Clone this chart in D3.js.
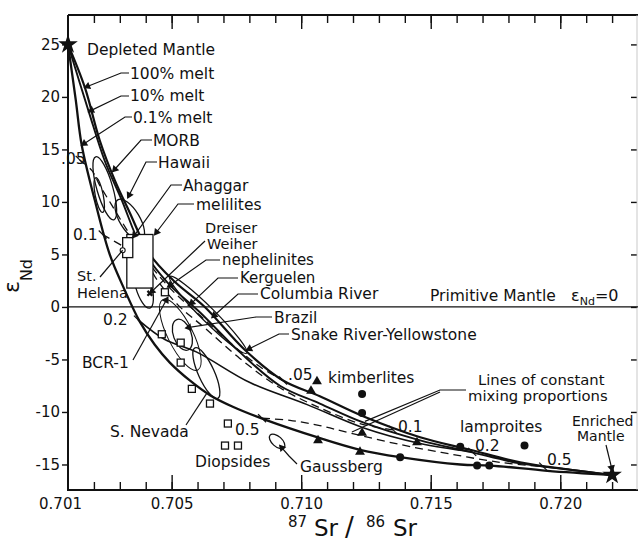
<!DOCTYPE html>
<html>
<head>
<meta charset="utf-8">
<script src="https://cdn.jsdelivr.net/npm/d3@7"></script>
<style>
  body { margin: 0; background: #fff; }
  svg { display: block; }
  text { font-family: "DejaVu Sans", sans-serif; fill: #111; }
</style>
</head>
<body>
<svg id="chart" width="638" height="541"></svg>
<script>
// ---- values (87Sr/86Sr , eNd) ----
const srRange = [0.701, 0.723];
const ndRange = [-17.43, 27.8];
const xTickValues = [0.701, 0.705, 0.710, 0.715, 0.720];
const yTickValues = [-15, -10, -5, 0, 5, 10, 15, 20, 25];

const depletedMantle = [0.7010, 25];
const enrichedMantle = [0.7220, -16];

// mixing curves DM -> EM
const melt100 = [[0.7010,25],[0.70165,20.9],[0.70222,15.9],[0.70280,12.1],[0.70338,9.0],[0.70416,5.0],
  [0.70512,2.4],[0.70628,0],[0.70783,-4.1],[0.70930,-7.0],[0.71072,-8.5],[0.71239,-10.4],
  [0.71459,-12.4],[0.71652,-13.6],[0.71845,-14.8],[0.72039,-15.5],[0.7220,-16.0]];
const melt10 = [[0.7010,25],[0.70180,18.6],[0.70242,13.9],[0.70307,10.2],[0.70385,5.6],[0.70485,2.3],
  [0.70609,-0.5],[0.70763,-4.3],[0.70918,-7.5],[0.71072,-9.2],[0.71239,-11.0],[0.71459,-12.7],
  [0.71652,-13.8],[0.71845,-14.9],[0.72039,-15.5],[0.7220,-16.0]];
const melt01 = [[0.7010,25],[0.70130,19.7],[0.70153,15.4],[0.70203,10.2],[0.70261,5.0],[0.70319,1.6],
  [0.70377,-1.4],[0.70435,-3.6],[0.70493,-5.3],[0.70570,-7.0],[0.70648,-8.4],[0.70736,-9.5],
  [0.70868,-10.8],[0.71061,-12.4],[0.71227,-13.6],[0.71382,-14.3],[0.71614,-15.0],[0.71730,-15.1],
  [0.71950,-15.6],[0.7220,-16.0]];

// lines of constant mixing proportion
const propLabels = ['.05', '0.1', '0.2', '0.5'];
const mix05 = [[0.70145,14.0],[0.70192,13.0],[0.70222,11.6],[0.70269,9.7],[0.70331,7.2],[0.70408,4.3],
  [0.70501,1.6],[0.70609,-0.8],[0.70744,-3.8],[0.70841,-5.7],[0.70930,-7.0]];
const mix1 = [[0.70234,6.9],[0.70319,5.7],[0.70389,4.8],[0.70443,2.6],[0.70524,0.2],[0.70628,-2.0],
  [0.70763,-4.9],[0.70918,-7.7],[0.71072,-9.6],[0.71227,-11.1],[0.71355,-11.7]];
const mix2 = [[0.70370,-1.2],[0.70474,-3.1],[0.70597,-4.3],[0.70802,-7.2],[0.71023,-9.3],
  [0.71239,-11.5],[0.71459,-13.0],[0.71660,-13.8]];
const mix5 = [[0.70849,-10.6],[0.70957,-10.8],[0.71072,-11.3],[0.71188,-12.0],[0.71382,-13.1],
  [0.71575,-14.0],[0.71768,-14.8],[0.71934,-15.2]];

// fields: ends of long axis + half width (eNd units)
const fieldNames = ['MORB', 'MORB inner', 'Hawaii', 'St. Helena', 'Snake River', 'Brazil', 'lobe', 'S. Nevada', 'Gaussberg'];
const fieldFrom = [[0.70207,14.3],[0.70207,12.3],[0.70292,10.2],[0.70365,4.3],[0.70493,2.9],[0.70520,-1.2],[0.70466,0.7],[0.70590,-3.9],[0.70880,-12.2]];
const fieldTo   = [[0.70277,8.3],[0.70234,9.0],[0.70385,6.4],[0.70416,-0.1],[0.70790,-4.4],[0.70563,-4.1],[0.70601,-6.0],[0.70678,-8.7],[0.70934,-13.4]];
const fieldHalfWidth = [0.76, 0.38, 0.95, 0.76, 0.67, 0.85, 1.2, 0.76, 0.48];

const boxNames = ['melilites', 'Ahaggar'];
const boxSr = [[0.70327,0.70428],[0.70311,0.70350]];
const boxNd = [[6.9,1.8],[6.6,4.7]];

const diopsides = [[0.70474,1.4],[0.70462,-2.6],[0.70535,-3.4],[0.70535,-5.3],[0.70578,-7.8],
  [0.70648,-9.2],[0.70717,-11.1],[0.70706,-13.2],[0.70756,-13.2]];
const kimberlites = [[0.71061,-7.1],[0.71038,-8.0],[0.71235,-12.0],[0.71065,-12.7],[0.71227,-13.8],[0.71447,-12.9]];
const lamproites = [[0.71235,-8.3],[0.71235,-10.1],[0.71382,-14.3],[0.71614,-13.3],[0.71679,-15.1],[0.71726,-15.1],[0.71862,-13.2]];
const dreiserWeiher = [0.70416, 1.3];
const ahaggarPoint = [0.70311, 5.4];

// ---- layout ----
const W = 638, H = 541;
const margin = {top: 15, right: 0, bottom: 51, left: 68};
const svg = d3.select('#chart');

const x = d3.scaleLinear().domain(srRange).range([margin.left, W - margin.right]);
const y = d3.scaleLinear().domain(ndRange).range([H - margin.bottom, margin.top]);
const pt = d => [x(d[0]), y(d[1])];
const pxPerNd = y(0) - y(1);

const minorX = d3.range(1, 22).map(i => +(0.701 + i * 0.001).toFixed(3));
const majorX = [0.705, 0.710, 0.715, 0.720];

function noDomain(g) { g.select('.domain').remove(); }
function tickStyle(g) { g.selectAll('line').attr('stroke', '#111').attr('stroke-width', 1.4); }

// bottom ticks (inward) + labels
svg.append('g').attr('transform', `translate(0,${y(ndRange[0])})`)
  .call(d3.axisBottom(x).tickValues(minorX).tickSize(-8).tickFormat(''))
  .call(noDomain).call(tickStyle);
svg.append('g').attr('transform', `translate(0,${y(ndRange[0])})`)
  .call(d3.axisBottom(x).tickValues(majorX).tickSize(-15).tickFormat(''))
  .call(noDomain).call(tickStyle);
svg.append('g').attr('transform', `translate(0,${y(ndRange[0])})`)
  .call(d3.axisBottom(x).tickValues(xTickValues).tickSize(0).tickPadding(8).tickFormat(d3.format('.3f')))
  .call(noDomain)
  .call(g => g.selectAll('text').attr('font-size', 15).attr('font-family', '"DejaVu Sans", sans-serif').attr('fill', '#111'))
  .call(g => g.selectAll('.tick text').filter(d => d === 0.701).attr('dx', -8));

// top ticks
svg.append('g').attr('transform', `translate(0,${y(ndRange[1])})`)
  .call(d3.axisTop(x).tickValues(minorX).tickSize(-8).tickFormat(''))
  .call(noDomain).call(tickStyle);
svg.append('g').attr('transform', `translate(0,${y(ndRange[1])})`)
  .call(d3.axisTop(x).tickValues(majorX).tickSize(-14).tickFormat(''))
  .call(noDomain).call(tickStyle);

// left axis
svg.append('g').attr('transform', `translate(${x(srRange[0])},0)`)
  .call(d3.axisLeft(y).tickValues(yTickValues).tickSize(6).tickPadding(2).tickFormat(d => String(d)))
  .call(noDomain).call(tickStyle)
  .call(g => g.selectAll('text').attr('font-size', 15).attr('font-family', '"DejaVu Sans", sans-serif').attr('fill', '#111'));

// right axis ticks
svg.append('g').attr('transform', `translate(${x(srRange[1]) - 1},0)`)
  .call(d3.axisRight(y).tickValues(yTickValues).tickSize(-6).tickFormat(''))
  .call(noDomain).call(tickStyle);

// frame
const x0 = x(srRange[0]), x1 = x(srRange[1]), y0 = y(ndRange[0]), y1 = y(ndRange[1]);
svg.append('path').attr('d', `M${x0},${y1}H${x1} M${x0},${y1}V${y0}H${x1}`)
  .attr('fill', 'none').attr('stroke', '#111').attr('stroke-width', 2);
svg.append('line').attr('x1', x1 - 1).attr('x2', x1 - 1).attr('y1', y1).attr('y2', y0)
  .attr('stroke', '#bbb').attr('stroke-width', 0.8);

// primitive mantle line
svg.append('line').attr('x1', x0).attr('x2', x1).attr('y1', y(0)).attr('y2', y(0))
  .attr('stroke', '#111').attr('stroke-width', 1.2);

// curves
const line = d3.line().x(d => x(d[0])).y(d => y(d[1])).curve(d3.curveCatmullRom.alpha(0.5));
const curveStyles = [
  [melt100, 2.2, null], [melt10, 1.9, null], [melt01, 2.3, null],
  [mix2, 1.6, null], [mix05, 1.3, '8,5'], [mix1, 1.3, '8,5'], [mix5, 1.3, '8,5']
];
curveStyles.forEach(([data, w, dash]) => {
  svg.append('path').attr('d', line(data)).attr('fill', 'none')
    .attr('stroke', '#111').attr('stroke-width', w).attr('stroke-dasharray', dash);
});

// fields (rotated ellipses)
fieldNames.forEach((name, i) => {
  const a = pt(fieldFrom[i]), b = pt(fieldTo[i]);
  const cx = (a[0] + b[0]) / 2, cy = (a[1] + b[1]) / 2;
  const rx = Math.hypot(b[0] - a[0], b[1] - a[1]) / 2;
  const ang = Math.atan2(b[1] - a[1], b[0] - a[0]) * 180 / Math.PI;
  svg.append('ellipse').attr('cx', cx).attr('cy', cy).attr('rx', rx).attr('ry', fieldHalfWidth[i] * pxPerNd)
    .attr('transform', `rotate(${ang},${cx},${cy})`)
    .attr('fill', 'none').attr('stroke', '#111').attr('stroke-width', name === 'lobe' ? 1 : 1.3);
});

// boxes
boxNames.forEach((name, i) => {
  svg.append('rect').attr('x', x(boxSr[i][0])).attr('y', y(boxNd[i][0]))
    .attr('width', x(boxSr[i][1]) - x(boxSr[i][0])).attr('height', y(boxNd[i][1]) - y(boxNd[i][0]))
    .attr('fill', '#fff').attr('stroke', '#111').attr('stroke-width', 1.3);
});
svg.append('circle').attr('cx', x(ahaggarPoint[0])).attr('cy', y(ahaggarPoint[1])).attr('r', 2.5)
  .attr('fill', '#fff').attr('stroke', '#111').attr('stroke-width', 1.1);

// points
svg.append('g').selectAll('rect').data(diopsides).join('rect')
  .attr('x', d => x(d[0]) - 3.5).attr('y', d => y(d[1]) - 3.5).attr('width', 7).attr('height', 7)
  .attr('fill', '#fff').attr('stroke', '#111').attr('stroke-width', 1.3);
svg.append('g').selectAll('path').data(kimberlites).join('path')
  .attr('d', d3.symbol(d3.symbolTriangle).size(42))
  .attr('transform', d => `translate(${x(d[0])},${y(d[1])})`).attr('fill', '#111');
svg.append('g').selectAll('circle').data(lamproites).join('circle')
  .attr('cx', d => x(d[0])).attr('cy', d => y(d[1])).attr('r', 4).attr('fill', '#111');
svg.append('path').attr('d', d3.symbol(d3.symbolCross).size(26))
  .attr('transform', `translate(${x(dreiserWeiher[0])},${y(dreiserWeiher[1])}) rotate(45)`).attr('fill', '#111');
[depletedMantle, enrichedMantle].forEach(d => {
  svg.append('path').attr('d', d3.symbol(d3.symbolStar).size(120))
    .attr('transform', `translate(${x(d[0])},${y(d[1])})`).attr('fill', '#111');
});

// proportion ticks on the outer curves
const propLow = [mix05[0], mix1[0], mix2[0], mix5[0]];
const propHigh = [mix05[mix05.length - 1], mix1[mix1.length - 1], mix2[mix2.length - 1], mix5[mix5.length - 1]];
[...propLow, ...propHigh].forEach(d => {
  svg.append('line').attr('x1', x(d[0]) - 4).attr('x2', x(d[0]) + 4).attr('y1', y(d[1]) - 4).attr('y2', y(d[1]) + 4)
    .attr('stroke', '#111').attr('stroke-width', 1.2);
});

// ---- annotations (text in pixels, leader tip on data) ----
function label(t, px, py, size) {
  return svg.append('text').attr('x', px).attr('y', py).attr('font-size', size || 15.5).text(t);
}
function leader(points, tip, arrow) {
  const p = points.concat([pt(tip)]);
  svg.append('path').attr('d', d3.line()(p)).attr('fill', 'none').attr('stroke', '#111').attr('stroke-width', 1.2);
  if (arrow) {
    const a = p[p.length - 2], b = p[p.length - 1];
    const ang = Math.atan2(b[1] - a[1], b[0] - a[0]) * 180 / Math.PI + 90;
    svg.append('path').attr('d', d3.symbol(d3.symbolTriangle).size(26))
      .attr('transform', `translate(${b[0]},${b[1]}) rotate(${ang}) translate(0,3)`).attr('fill', '#111');
  }
}

label('Depleted Mantle', 87, 55);
label('100% melt', 130, 79); leader([[129, 73], [121, 73]], [0.70165, 20.9], true);
label('10% melt', 130, 101); leader([[129, 96], [121, 96]], [0.70180, 18.6], true);
label('0.1% melt', 133, 123); leader([[132, 117], [125, 117]], [0.70153, 15.4], true);
label('MORB', 153, 146); leader([[152, 140], [141, 140]], [0.70273, 12.9], true);
label('Hawaii', 158, 168); leader([[157, 162], [146, 162]], [0.70331, 10.4], true);
label('Ahaggar', 183, 191); leader([[182, 185], [171, 185]], [0.70350, 6.6], true);
label('melilites', 196, 210); leader([[194, 204], [178, 204]], [0.70435, 6.9], true);
label('Dreiser', 205, 233, 14.5); label('Weiher', 207, 249, 14.5); leader([[205, 241]], dreiserWeiher, true);
label('nephelinites', 222, 265, 15); leader([[220, 260], [206, 260]], [0.70485, 1.9], true);
label('Kerguelen', 240, 283, 15); leader([[238, 278], [218, 278]], [0.70570, 0.2], true);
label('Columbia River', 260, 299); leader([[258, 294], [238, 294]], [0.70656, -1.0], true);
label('Brazil', 274, 323); leader([[272, 317], [256, 317]], [0.70555, -2.0], true);
label('Snake River-Yellowstone', 291, 340); leader([[289, 334], [279, 334]], [0.70790, -4.1], true);
label('St.', 77, 281, 14.5); label('Helena', 77, 298, 14.5); leader([[100, 277]], ahaggarPoint, false);
label('BCR-1', 82, 368); leader([[133, 360]], [0.70485, 0.9], true);
label('S. Nevada', 110, 437); leader([[186, 425]], [0.70636, -8.2], false);
label('Diopsides', 195, 467);
label('Gaussberg', 300, 472); leader([[297, 464], [289, 456]], [0.70918, -13.2], true);
label('kimberlites', 328, 383);
label('Lines of constant', 478, 385, 14.8);
label('mixing proportions', 468, 401, 14.8);
leader([[466, 390], [440, 390]], [0.71246, -10.9], false);
leader([[440, 392]], [0.71196, -11.9], false);
label('lamproites', 460, 432);
label('Enriched', 572, 426, 14); label('Mantle', 577, 441, 14);
leader([[606, 445]], [0.72201, -15.6], true);
label('Primitive Mantle', 430, 301);
const eq = svg.append('text').attr('x', 571).attr('y', 301).attr('font-size', 16);
eq.append('tspan').text('ε');
eq.append('tspan').attr('font-size', 11).attr('dy', 4).text('Nd');
eq.append('tspan').attr('dy', -4).text('=0');

// proportion labels
const lowLabelPos = [[61, 164], [73, 240], [103, 325], [235, 435]];
const highLabelPos = [[288, 380], [398, 432], [475, 451], [547, 465]];
propLabels.forEach((t, i) => {
  label(t, lowLabelPos[i][0], lowLabelPos[i][1]);
  label(t, highLabelPos[i][0], highLabelPos[i][1]);
});

// axis titles
const xt = svg.append('text').attr('y', 536).attr('font-size', 23);
xt.append('tspan').attr('x', 288).attr('dy', -9).attr('font-size', 15).text('87');
xt.append('tspan').attr('x', 314).attr('dy', 9).text('Sr');
xt.append('tspan').attr('x', 345).attr('font-size', 26).text('/');
xt.append('tspan').attr('x', 366).attr('dy', -9).attr('font-size', 15).text('86');
xt.append('tspan').attr('x', 393).attr('dy', 9).text('Sr');

const yt = svg.append('text').attr('transform', 'translate(19,293) rotate(-90)').attr('font-size', 22);
yt.append('tspan').text('ε');
yt.append('tspan').attr('font-size', 16).attr('dy', 13).text('Nd');
</script>
</body>
</html>
